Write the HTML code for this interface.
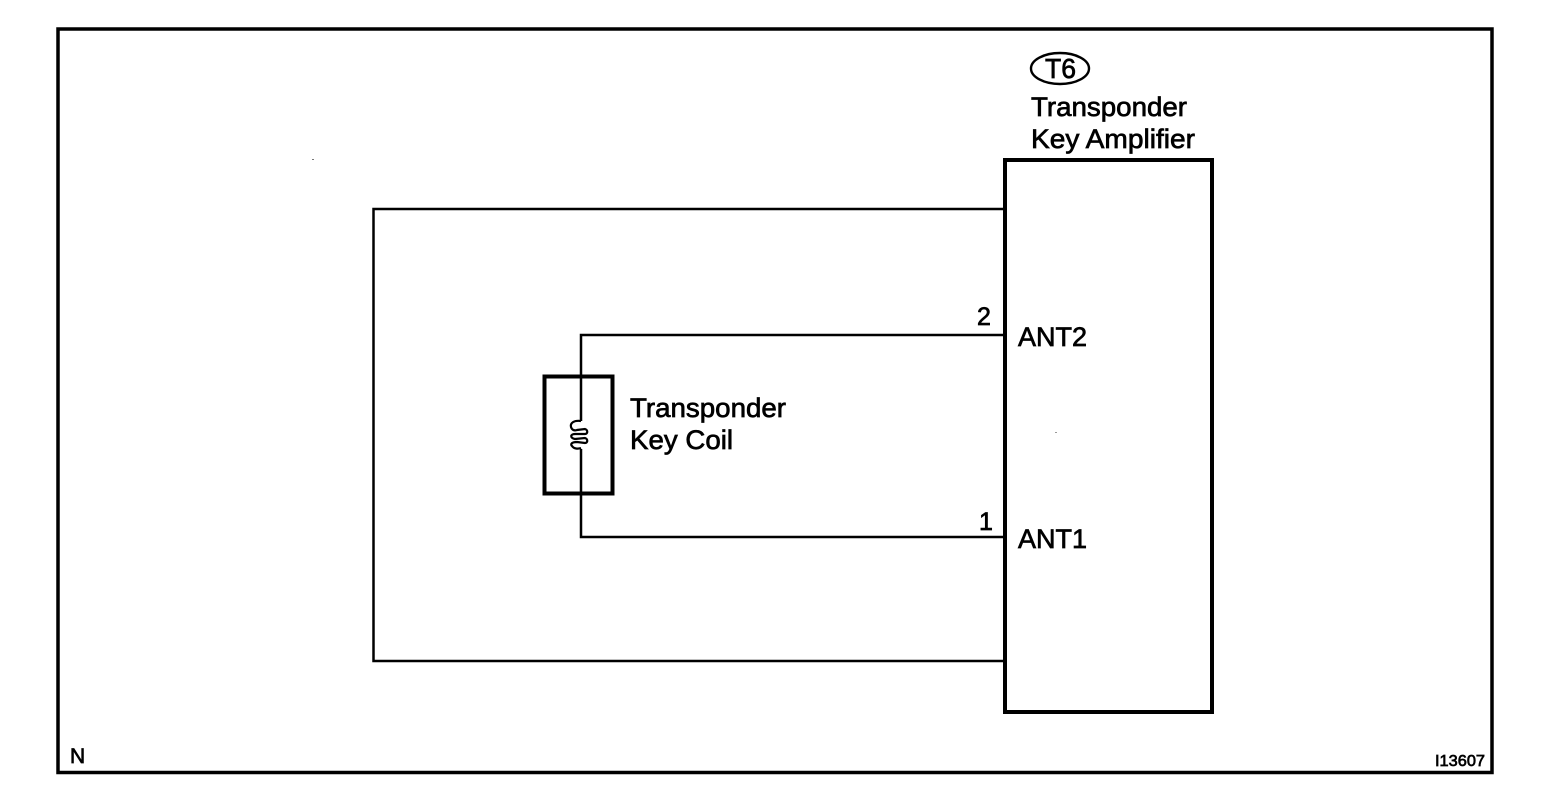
<!DOCTYPE html>
<html>
<head>
<meta charset="utf-8">
<style>
html,body{margin:0;padding:0;background:#fff;width:1568px;height:812px;overflow:hidden}
svg{display:block;position:absolute;left:0;top:0}
text{font-family:"Liberation Sans",sans-serif;fill:#000;stroke:#000;stroke-width:.7px}
</style>
</head>
<body>
<svg width="1568" height="812" viewBox="0 0 1568 812" xmlns="http://www.w3.org/2000/svg">
<rect width="1568" height="812" fill="#fff"/>
<rect x="58" y="29" width="1434" height="743.5" fill="none" stroke="#000" stroke-width="3.5"/>
<rect x="1005" y="160" width="207" height="552" fill="none" stroke="#000" stroke-width="4"/>
<polyline points="1004,209 373.500,209 373.500,661 1004,661" fill="none" stroke="#000" stroke-width="2.500"/>
<polyline points="1004,335 581,335 581,421" fill="none" stroke="#000" stroke-width="2.500"/>
<polyline points="581,449 581,537 1004,537" fill="none" stroke="#000" stroke-width="2.500"/>
<rect x="544.500" y="376.500" width="68" height="117" fill="none" stroke="#000" stroke-width="4"/>
<path d="M581 421 C574 420 570 423 571 427 C572 430 574 431 577 430 L585 429 C588 430 588 434 585 434 L575 434 C570 434 570 438 575 439 L585 438 C588 439 588 443 585 443 L577 442 C572 442 570 444 572 446 C574 449 578 449 581 448" fill="none" stroke="#000" stroke-width="2.200"/>
<ellipse cx="1060" cy="68.500" rx="29" ry="15.500" fill="none" stroke="#000" stroke-width="2.400"/>
<text x="1045" y="78" font-size="28" textLength="31" lengthAdjust="spacingAndGlyphs">T6</text>
<text x="1031" y="116" font-size="27" textLength="156" lengthAdjust="spacingAndGlyphs">Transponder</text>
<text x="1031" y="148" font-size="27" textLength="164" lengthAdjust="spacingAndGlyphs">Key Amplifier</text>
<text x="630" y="417" font-size="27" textLength="156" lengthAdjust="spacingAndGlyphs">Transponder</text>
<text x="630" y="449" font-size="27" textLength="103" lengthAdjust="spacingAndGlyphs">Key Coil</text>
<text x="1018" y="346" font-size="27">ANT2</text>
<text x="1018" y="548" font-size="27">ANT1</text>
<text x="977" y="325" font-size="25">2</text>
<text x="979" y="530" font-size="25">1</text>
<text x="70" y="763" font-size="21">N</text>
<text x="1435" y="766" font-size="16" textLength="50" lengthAdjust="spacingAndGlyphs">I13607</text>
<rect x="312" y="159" width="2" height="1" fill="#777"/>
<rect x="1055" y="432" width="2" height="1" fill="#999"/>
</svg>
</body>
</html>
